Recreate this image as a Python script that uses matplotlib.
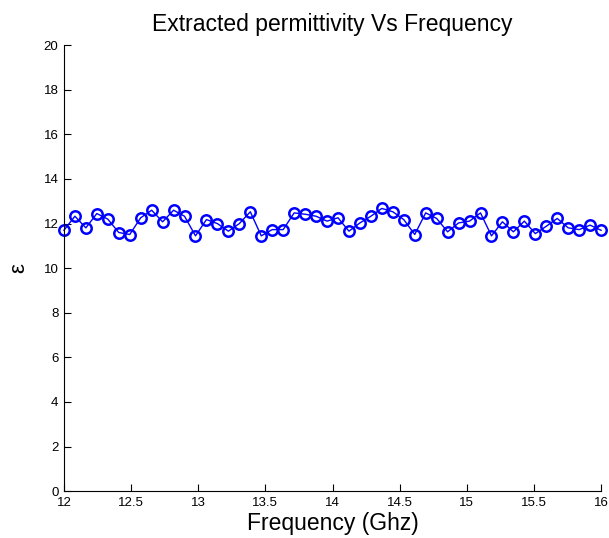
import numpy as np
import matplotlib.pyplot as plt

plt.rcParams['font.family'] = ['Liberation Sans', 'DejaVu Sans']

# frequency points (GHz), 50 samples from 12 to 16
freq = np.linspace(12, 16, 50)

# extracted permittivity
eps = [11.70, 12.33, 11.81, 12.45, 12.20, 11.60, 11.51, 12.26, 12.60, 12.08,
       12.60, 12.33, 11.45, 12.18, 12.00, 11.66, 12.00, 12.53, 11.45, 11.73,
       11.73, 12.48, 12.42, 12.33, 12.11, 12.26, 11.66, 12.03, 12.33, 12.68,
       12.53, 12.18, 11.51, 12.48, 12.23, 11.63, 12.03, 12.11, 12.48, 11.45,
       12.08, 11.63, 12.11, 11.55, 11.88, 12.23, 11.81, 11.73, 11.93, 11.70]

xticks = [12, 12.5, 13, 13.5, 14, 14.5, 15, 15.5, 16]
xticklabels = ['12', '12.5', '13', '13.5', '14', '14.5', '15', '15.5', '16']
yticks = list(range(0, 21, 2))

fig = plt.figure(figsize=(6.09, 5.38), dpi=100)
ax = fig.add_axes([0.105, 0.087, 0.882, 0.829])

ax.plot(freq, eps, '-o', color='#0000ff', linewidth=1.0,
        markersize=7.5, markerfacecolor='none', markeredgewidth=1.8, clip_on=False)

ax.set_xlim(12, 16)
ax.set_ylim(0, 20)
ax.set_xticks(xticks)
ax.set_xticklabels(xticklabels)
ax.set_yticks(yticks)

ax.spines['top'].set_visible(False)
ax.spines['right'].set_visible(False)
ax.tick_params(direction='in', labelsize=9.5, length=5, width=0.8)
ax.tick_params(axis='x', pad=4)
ax.tick_params(axis='y', pad=4)

ax.set_title('Extracted permittivity Vs Frequency', fontsize=16.5, pad=10)
ax.set_xlabel('Frequency (Ghz)', fontsize=16.5, labelpad=2)
ax.set_ylabel('ε', fontsize=16, labelpad=10)

fig.savefig('out.png', dpi=100)
